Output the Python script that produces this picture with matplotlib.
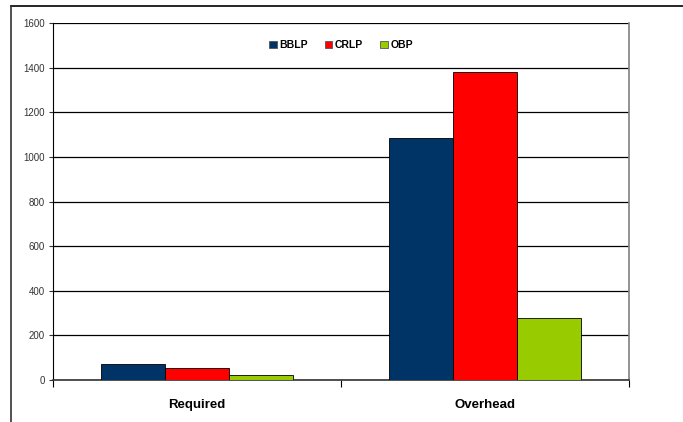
import numpy as np
import matplotlib.pyplot as plt
from matplotlib.lines import Line2D

plt.rcParams['font.family'] = ['Liberation Sans', 'DejaVu Sans']

# data
categories = ['Required', 'Overhead']
series = ['BBLP', 'CRLP', 'OBP']
bblp = [71, 1085]
crlp = [54, 1380]
obp = [21, 276]
colors = ['#003366', '#FF0000', '#99CC00']

fig = plt.figure(figsize=(6.83, 4.22), dpi=100)
ax = fig.add_axes([53 / 683, 1 - 380 / 422, 576 / 683, 357 / 422])

x = np.arange(len(categories))
w = 0.222
for i, (vals, col, name) in enumerate(zip([bblp, crlp, obp], colors, series)):
    ax.bar(x + (i - 1) * w, vals, w, color=col, edgecolor='black',
           linewidth=0.6, label=name, zorder=3)

ax.set_xlim(-0.5, 1.5)
ax.set_ylim(0, 1600)
ax.set_yticks(range(0, 1601, 200))
ax.yaxis.grid(True, color='black', linewidth=0.9, zorder=0)
ax.tick_params(axis='y', labelsize=7, length=3, width=0.8, pad=3, colors='#333333')

# category boundary ticks
ax.set_xticks([-0.5, 0.5, 1.5])
ax.set_xticklabels([])
ax.tick_params(axis='x', length=5, width=0.8, direction='out')
ax.set_xticks(x, minor=True)
ax.set_xticklabels(categories, minor=True, fontsize=9.5, fontweight='bold')
ax.tick_params(axis='x', which='minor', length=0, pad=14)

ax.spines['left'].set_color('black')
ax.spines['bottom'].set_color('#333333')
ax.spines['bottom'].set_linewidth(1.2)
ax.spines['right'].set_color('#808080')
ax.spines['right'].set_linewidth(1.2)
ax.spines['top'].set_visible(False)

leg = ax.legend(loc='center', bbox_to_anchor=(0.5, 0.938), ncol=3, frameon=False,
                prop={'size': 7.5, 'weight': 'bold'}, handlelength=0.75,
                handleheight=0.75, handletextpad=0.25, columnspacing=1.6)
for h in leg.legend_handles:
    h.set_edgecolor('#555555')

# outer frame of chart
fig.add_artist(Line2D([11 / 683, 1], [1 - 6 / 422, 1 - 6 / 422], color='black', linewidth=1.2))
fig.add_artist(Line2D([11 / 683, 11 / 683], [0, 1 - 6 / 422], color='#333333', linewidth=1.2))

fig.savefig('out.png', dpi=100)
